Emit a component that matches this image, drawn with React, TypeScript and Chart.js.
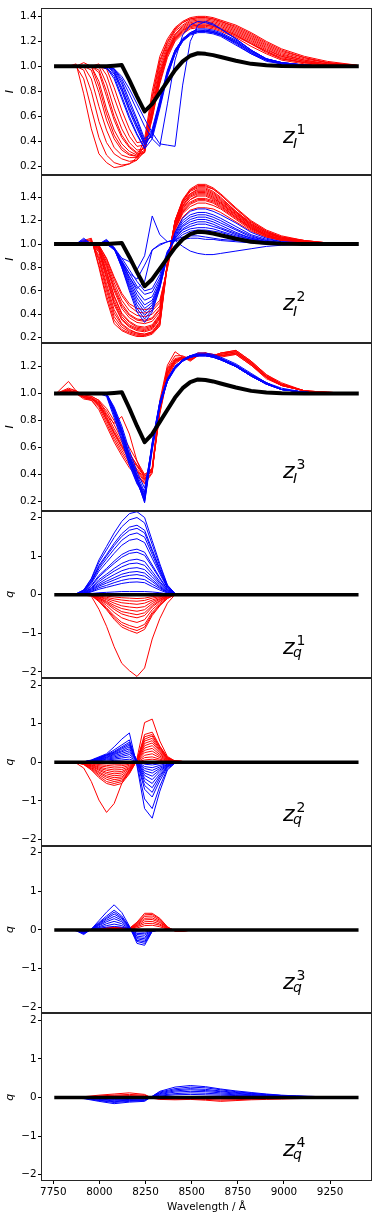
import React, { useEffect, useRef } from 'react';
import { Chart, registerables } from 'chart.js';

Chart.register(...registerables);

// ---------- x grids (wavelength, Angstrom) ----------
const xI = [7765, 7832.5, 7873.75, 7915, 7956.25, 7997.5, 8038.75, 8080, 8121.25, 8162.5, 8203.75, 8245, 8286.25, 8327.5, 8368.75, 8410, 8451.25, 8492.5, 8533.75, 8575, 8616.25, 8657.5, 8740, 8822.5, 8905, 8987.5, 9111.25, 9235, 9395];
const xQ = [7832.5, 7873.75, 7915, 7956.25, 7997.5, 8038.75, 8080, 8121.25, 8162.5, 8203.75, 8245, 8286.25, 8327.5, 8368.75, 8410, 8451.25, 8492.5];
const xQ4 = [7832.5, 7915, 7997.5, 8080, 8162.5, 8245, 8286.25, 8327.5, 8410, 8492.5, 8575, 8657.5, 8740, 8822.5, 8905, 8987.5, 9070, 9152.5, 9235];
const zeroX = [7765, 9395];
const zeroY = [0, 0];

// ---------- mean intensity profile (black) ----------
const meanI = [1, 1, 1, 1, 1, 1, 1, 1.005, 1.01, 0.89, 0.76, 0.64, 0.7, 0.79, 0.88, 0.97, 1.04, 1.085, 1.105, 1.1, 1.09, 1.075, 1.045, 1.02, 1.008, 1.003, 1, 1, 1];

// ---------- panel z_I^1 ----------
const i1Red = [
  [1, 1, 1.02, 0.78, 0.5, 0.3, 0.23, 0.19, 0.2, 0.22, 0.27, 0.42, 0.8, 1.08, 1.22, 1.31, 1.36, 1.39, 1.4, 1.4, 1.39, 1.37, 1.33, 1.27, 1.2, 1.14, 1.08, 1.04, 1.01],
  [1, 1, 1, 0.9, 0.66, 0.43, 0.29, 0.23, 0.21, 0.22, 0.25, 0.38, 0.76, 1.05, 1.2, 1.3, 1.35, 1.38, 1.39, 1.39, 1.38, 1.36, 1.31, 1.25, 1.18, 1.12, 1.07, 1.03, 1.01],
  [1, 1, 1, 0.97, 0.8, 0.56, 0.39, 0.3, 0.26, 0.24, 0.25, 0.32, 0.7, 1.0, 1.17, 1.28, 1.33, 1.37, 1.38, 1.38, 1.37, 1.35, 1.3, 1.24, 1.17, 1.11, 1.06, 1.03, 1.0],
  [1, 1, 1, 1, 0.9, 0.68, 0.49, 0.35, 0.29, 0.27, 0.27, 0.31, 0.66, 0.97, 1.15, 1.26, 1.32, 1.36, 1.37, 1.37, 1.36, 1.34, 1.29, 1.23, 1.16, 1.1, 1.05, 1.02, 1.0],
  [1, 1, 1, 1, 0.97, 0.79, 0.57, 0.42, 0.33, 0.29, 0.28, 0.32, 0.66, 0.95, 1.13, 1.25, 1.31, 1.35, 1.36, 1.36, 1.35, 1.33, 1.28, 1.22, 1.15, 1.09, 1.05, 1.02, 1.0],
  [1, 1, 1, 1, 1, 0.88, 0.66, 0.49, 0.38, 0.32, 0.29, 0.33, 0.64, 0.93, 1.12, 1.24, 1.3, 1.34, 1.35, 1.35, 1.34, 1.32, 1.27, 1.21, 1.14, 1.08, 1.04, 1.02, 1.0],
  [1, 1, 1, 1, 1, 0.95, 0.76, 0.57, 0.43, 0.35, 0.3, 0.31, 0.6, 0.91, 1.11, 1.23, 1.29, 1.33, 1.34, 1.34, 1.33, 1.31, 1.26, 1.2, 1.13, 1.08, 1.04, 1.01, 1.0],
  [1, 1, 1, 1, 1, 1, 0.86, 0.66, 0.5, 0.39, 0.33, 0.34, 0.58, 0.88, 1.1, 1.22, 1.28, 1.32, 1.33, 1.33, 1.32, 1.3, 1.25, 1.19, 1.12, 1.07, 1.03, 1.01, 1.0],
  [1, 1, 1, 1, 1, 1.02, 0.93, 0.75, 0.58, 0.44, 0.36, 0.37, 0.6, 0.88, 1.09, 1.21, 1.27, 1.31, 1.32, 1.32, 1.31, 1.29, 1.24, 1.18, 1.11, 1.06, 1.03, 1.01, 1.0],
  [1, 1, 1, 1, 1, 1, 0.98, 0.83, 0.65, 0.5, 0.39, 0.4, 0.62, 0.86, 1.07, 1.2, 1.26, 1.3, 1.31, 1.31, 1.3, 1.28, 1.23, 1.16, 1.1, 1.05, 1.02, 1.0, 1.0],
  [1, 1, 1, 1.03, 1, 0.84, 0.62, 0.45, 0.35, 0.3, 0.28, 0.36, 0.74, 1.03, 1.19, 1.29, 1.35, 1.38, 1.39, 1.39, 1.38, 1.36, 1.32, 1.26, 1.19, 1.13, 1.07, 1.03, 1.0],
  [1, 1, 1, 1, 1, 0.97, 0.8, 0.6, 0.45, 0.36, 0.31, 0.35, 0.64, 0.92, 1.12, 1.23, 1.29, 1.32, 1.33, 1.33, 1.32, 1.3, 1.25, 1.18, 1.12, 1.06, 1.03, 1.01, 1.0],
];
const i1Blue = [
  [1, 1, 1, 1, 1, 1, 0.99, 0.92, 0.76, 0.6, 0.46, 0.35, 0.48, 0.72, 0.96, 1.13, 1.22, 1.27, 1.29, 1.29, 1.28, 1.26, 1.2, 1.12, 1.06, 1.03, 1.01, 1.0, 1.0],
  [1, 1, 1, 1, 1, 1, 0.98, 0.94, 0.8, 0.64, 0.5, 0.37, 0.46, 0.7, 0.95, 1.12, 1.21, 1.26, 1.28, 1.28, 1.27, 1.25, 1.19, 1.11, 1.05, 1.02, 1.01, 1.0, 1.0],
  [1, 1, 1, 1, 1, 1, 1, 0.96, 0.83, 0.67, 0.53, 0.39, 0.5, 0.73, 0.97, 1.13, 1.22, 1.26, 1.28, 1.28, 1.27, 1.25, 1.18, 1.1, 1.05, 1.02, 1.0, 1.0, 1.0],
  [1, 1, 1, 1, 1, 1, 1, 0.97, 0.86, 0.7, 0.56, 0.4, 0.44, 0.68, 0.93, 1.1, 1.2, 1.25, 1.27, 1.27, 1.26, 1.24, 1.17, 1.1, 1.04, 1.02, 1.0, 1.0, 1.0],
  [1, 1, 1, 1, 1, 1, 1, 0.98, 0.88, 0.73, 0.58, 0.42, 0.47, 0.7, 0.94, 1.11, 1.21, 1.26, 1.28, 1.29, 1.28, 1.26, 1.2, 1.12, 1.06, 1.03, 1.01, 1.0, 1.0],
  [1, 1, 1, 1, 1, 1, 0.99, 0.9, 0.74, 0.58, 0.45, 0.34, 0.42, 0.66, 0.92, 1.1, 1.2, 1.26, 1.28, 1.28, 1.27, 1.25, 1.19, 1.11, 1.05, 1.02, 1.0, 1.0, 1.0],
  [1, 1, 1, 1, 1, 1, 1, 0.95, 0.82, 0.66, 0.52, 0.38, 0.45, 0.69, 0.94, 1.12, 1.22, 1.27, 1.3, 1.3, 1.29, 1.27, 1.21, 1.13, 1.06, 1.03, 1.01, 1.0, 1.0],
  [1, 1, 1, 1, 1, 1, 1, 0.98, 0.9, 0.78, 0.65, 0.52, 0.42, 0.36, 0.7, 1.05, 1.25, 1.33, 1.36, 1.35, 1.33, 1.3, 1.22, 1.13, 1.06, 1.03, 1.01, 1.0, 1.0],
  [1, 1, 1, 1, 1, 1, 1, 0.98, 0.92, 0.82, 0.7, 0.58, 0.47, 0.38, 0.37, 0.36, 0.85, 1.2, 1.33, 1.36, 1.34, 1.3, 1.22, 1.13, 1.06, 1.03, 1.01, 1.0, 1.0],
];

// ---------- panel z_I^2 ----------
const i2Red = [
  [1, 1, 1, 1.03, 1.05, 0.8, 0.53, 0.32, 0.26, 0.23, 0.21, 0.21, 0.23, 0.3, 0.82, 1.2, 1.38, 1.47, 1.51, 1.51, 1.48, 1.43, 1.31, 1.2, 1.12, 1.07, 1.03, 1.01, 1.0],
  [1, 1, 1, 1.02, 1.03, 0.86, 0.6, 0.38, 0.29, 0.25, 0.23, 0.22, 0.24, 0.32, 0.84, 1.2, 1.37, 1.46, 1.5, 1.5, 1.47, 1.42, 1.3, 1.19, 1.11, 1.06, 1.03, 1.01, 1.0],
  [1, 1, 1, 1, 1.02, 0.9, 0.66, 0.44, 0.32, 0.27, 0.24, 0.23, 0.25, 0.34, 0.85, 1.19, 1.36, 1.45, 1.48, 1.48, 1.45, 1.4, 1.28, 1.18, 1.1, 1.06, 1.02, 1.01, 1.0],
  [1, 1, 1, 1, 1.01, 0.93, 0.7, 0.48, 0.35, 0.29, 0.26, 0.25, 0.27, 0.36, 0.84, 1.18, 1.35, 1.43, 1.46, 1.46, 1.43, 1.38, 1.27, 1.17, 1.1, 1.05, 1.02, 1.0, 1.0],
  [1, 1, 1, 1, 1, 0.95, 0.74, 0.52, 0.38, 0.31, 0.28, 0.27, 0.29, 0.38, 0.83, 1.17, 1.33, 1.41, 1.44, 1.44, 1.41, 1.36, 1.26, 1.16, 1.09, 1.05, 1.02, 1.0, 1.0],
  [1, 1, 1, 1, 1, 0.96, 0.77, 0.56, 0.41, 0.34, 0.3, 0.29, 0.31, 0.4, 0.83, 1.16, 1.32, 1.4, 1.43, 1.43, 1.4, 1.35, 1.25, 1.15, 1.08, 1.04, 1.02, 1.0, 1.0],
  [1, 1, 1, 1, 1, 0.97, 0.8, 0.6, 0.45, 0.37, 0.33, 0.32, 0.34, 0.42, 0.82, 1.15, 1.31, 1.38, 1.41, 1.41, 1.38, 1.34, 1.24, 1.14, 1.08, 1.04, 1.01, 1.0, 1.0],
  [1, 1, 1, 1, 1, 0.98, 0.83, 0.64, 0.49, 0.4, 0.36, 0.35, 0.37, 0.45, 0.82, 1.14, 1.29, 1.36, 1.39, 1.39, 1.37, 1.33, 1.23, 1.14, 1.07, 1.04, 1.01, 1.0, 1.0],
  [1, 1, 1, 1, 1, 0.98, 0.85, 0.67, 0.52, 0.43, 0.39, 0.38, 0.4, 0.47, 0.81, 1.13, 1.27, 1.34, 1.37, 1.37, 1.35, 1.31, 1.22, 1.13, 1.07, 1.03, 1.01, 1.0, 1.0],
  [1, 1, 1, 1, 1, 0.99, 0.87, 0.7, 0.56, 0.47, 0.42, 0.41, 0.43, 0.5, 0.8, 1.12, 1.26, 1.32, 1.35, 1.35, 1.33, 1.3, 1.21, 1.12, 1.06, 1.03, 1.01, 1.0, 1.0],
  [1, 1, 1, 1.02, 1.04, 0.82, 0.56, 0.35, 0.27, 0.24, 0.22, 0.22, 0.24, 0.31, 0.83, 1.2, 1.37, 1.46, 1.49, 1.49, 1.47, 1.42, 1.3, 1.19, 1.11, 1.06, 1.03, 1.01, 1.0],
  [1, 1, 1, 1, 1.02, 0.88, 0.63, 0.41, 0.31, 0.26, 0.24, 0.23, 0.25, 0.33, 0.84, 1.19, 1.35, 1.43, 1.47, 1.47, 1.44, 1.39, 1.28, 1.17, 1.1, 1.05, 1.02, 1.0, 1.0],
  [1, 1, 1, 1, 1, 0.94, 0.72, 0.5, 0.36, 0.3, 0.27, 0.26, 0.28, 0.37, 0.83, 1.17, 1.33, 1.42, 1.45, 1.45, 1.42, 1.37, 1.27, 1.16, 1.09, 1.05, 1.02, 1.0, 1.0],
  [1, 1, 1, 1, 1, 0.96, 0.76, 0.55, 0.4, 0.33, 0.29, 0.28, 0.3, 0.39, 0.82, 1.15, 1.3, 1.38, 1.42, 1.42, 1.39, 1.35, 1.25, 1.15, 1.08, 1.04, 1.02, 1.0, 1.0],
  [1, 1, 1, 1, 1, 0.97, 0.82, 0.62, 0.47, 0.39, 0.35, 0.34, 0.36, 0.44, 0.82, 1.13, 1.28, 1.35, 1.38, 1.38, 1.36, 1.32, 1.23, 1.13, 1.07, 1.04, 1.01, 1.0, 1.0],
  [1, 1, 1, 1, 1, 0.99, 0.88, 0.72, 0.58, 0.49, 0.45, 0.44, 0.45, 0.52, 0.79, 1.1, 1.23, 1.29, 1.31, 1.31, 1.3, 1.27, 1.19, 1.11, 1.06, 1.03, 1.01, 1.0, 1.0],
];
const i2Blue = [
  [1, 1, 1, 1.05, 1, 1, 1.04, 0.97, 0.8, 0.6, 0.42, 0.33, 0.42, 0.62, 0.9, 1.1, 1.22, 1.28, 1.3, 1.3, 1.28, 1.25, 1.18, 1.1, 1.05, 1.02, 1.01, 1.0, 1.0],
  [1, 1, 1, 1.04, 1, 1, 1.03, 0.96, 0.8, 0.62, 0.45, 0.36, 0.44, 0.63, 0.9, 1.09, 1.2, 1.25, 1.27, 1.27, 1.25, 1.22, 1.15, 1.08, 1.04, 1.02, 1.0, 1.0, 1.0],
  [1, 1, 1, 1.03, 1, 1, 1.03, 0.96, 0.81, 0.64, 0.48, 0.39, 0.46, 0.64, 0.91, 1.08, 1.18, 1.23, 1.25, 1.25, 1.23, 1.2, 1.13, 1.07, 1.03, 1.01, 1.0, 1.0, 1.0],
  [1, 1, 1, 1.02, 1, 1, 1.02, 0.96, 0.82, 0.66, 0.51, 0.42, 0.48, 0.65, 0.91, 1.07, 1.16, 1.21, 1.23, 1.23, 1.21, 1.18, 1.12, 1.06, 1.03, 1.01, 1.0, 1.0, 1.0],
  [1, 1, 1, 1.02, 1, 1, 1.02, 0.96, 0.83, 0.68, 0.54, 0.45, 0.5, 0.66, 0.92, 1.06, 1.15, 1.19, 1.21, 1.21, 1.19, 1.16, 1.1, 1.05, 1.02, 1.01, 1.0, 1.0, 1.0],
  [1, 1, 1, 1.01, 1, 1, 1.02, 0.96, 0.84, 0.7, 0.57, 0.48, 0.52, 0.67, 0.92, 1.05, 1.13, 1.17, 1.19, 1.19, 1.17, 1.14, 1.09, 1.05, 1.02, 1.01, 1.0, 1.0, 1.0],
  [1, 1, 1, 1.01, 1, 1, 1.01, 0.96, 0.85, 0.72, 0.6, 0.52, 0.55, 0.69, 0.93, 1.05, 1.12, 1.15, 1.17, 1.17, 1.15, 1.13, 1.08, 1.04, 1.02, 1.0, 1.0, 1.0, 1.0],
  [1, 1, 1, 1, 1, 1, 1.01, 0.97, 0.86, 0.75, 0.64, 0.57, 0.59, 0.71, 0.93, 1.04, 1.1, 1.13, 1.14, 1.14, 1.13, 1.11, 1.07, 1.04, 1.02, 1.0, 1.0, 1.0, 1.0],
  [1, 1, 1, 1, 1, 1, 1.0, 0.97, 0.88, 0.78, 0.68, 0.6, 0.62, 0.74, 0.94, 1.03, 1.08, 1.11, 1.12, 1.12, 1.11, 1.1, 1.06, 1.03, 1.01, 1.0, 1.0, 1.0, 1.0],
  [1, 1, 1, 1, 1, 1, 1.0, 0.95, 0.88, 0.85, 0.78, 0.9, 1.24, 1.08, 1.02, 1.03, 1.04, 1.05, 1.05, 1.04, 1.04, 1.03, 1.02, 1.01, 1.0, 1.0, 1.0, 1.0, 1.0],
  [1, 1, 1, 1, 1, 1, 1.0, 0.96, 0.85, 0.75, 0.7, 0.82, 0.95, 0.99, 1.02, 1.03, 0.98, 0.94, 0.92, 0.91, 0.91, 0.92, 0.94, 0.96, 0.98, 0.99, 1.0, 1.0, 1.0],
  [1, 1, 1, 1, 1, 1, 1.0, 0.96, 0.84, 0.72, 0.62, 0.68, 0.95, 1.0, 1.02, 1.04, 1.06, 1.07, 1.07, 1.06, 1.05, 1.04, 1.03, 1.02, 1.01, 1.0, 1.0, 1.0, 1.0],
];

// ---------- panel z_I^3 ----------
const i3Red = [
  [1, 1.09, 1.02, 0.99, 0.98, 0.95, 0.85, 0.74, 0.64, 0.55, 0.47, 0.39, 0.42, 0.92, 1.18, 1.26, 1.27, 1.25, 1.28, 1.3, 1.29, 1.29, 1.31, 1.23, 1.13, 1.07, 1.02, 1.01, 1.0],
  [1, 1.03, 1.02, 0.97, 0.96, 0.93, 0.82, 0.7, 0.6, 0.51, 0.43, 0.36, 0.45, 0.95, 1.21, 1.31, 1.27, 1.24, 1.28, 1.29, 1.28, 1.3, 1.32, 1.24, 1.14, 1.08, 1.02, 1.01, 1.0],
  [1, 1.02, 1.01, 0.98, 0.97, 0.92, 0.8, 0.68, 0.58, 0.49, 0.42, 0.35, 0.44, 0.88, 1.15, 1.24, 1.26, 1.26, 1.29, 1.3, 1.28, 1.28, 1.3, 1.22, 1.12, 1.06, 1.02, 1.0, 1.0],
  [1, 1.03, 1.0, 0.96, 0.95, 0.9, 0.78, 0.66, 0.56, 0.47, 0.4, 0.34, 0.42, 0.9, 1.17, 1.25, 1.26, 1.25, 1.28, 1.29, 1.28, 1.29, 1.31, 1.23, 1.13, 1.07, 1.02, 1.01, 1.0],
  [1, 1.02, 1.01, 0.98, 0.97, 0.93, 0.84, 0.78, 0.83, 0.7, 0.5, 0.37, 0.43, 0.91, 1.16, 1.25, 1.27, 1.25, 1.28, 1.29, 1.28, 1.3, 1.31, 1.23, 1.13, 1.07, 1.02, 1.0, 1.0],
  [1, 1.02, 1.0, 0.97, 0.96, 0.91, 0.81, 0.71, 0.61, 0.52, 0.44, 0.37, 0.43, 0.86, 1.13, 1.23, 1.26, 1.26, 1.3, 1.3, 1.28, 1.27, 1.29, 1.21, 1.12, 1.06, 1.02, 1.0, 1.0],
  [1, 1.01, 1.0, 0.98, 0.97, 0.94, 0.87, 0.77, 0.66, 0.56, 0.47, 0.4, 0.44, 0.87, 1.14, 1.24, 1.27, 1.27, 1.3, 1.3, 1.28, 1.28, 1.3, 1.22, 1.12, 1.06, 1.02, 1.0, 1.0],
  [1, 1.02, 1.01, 0.97, 0.95, 0.88, 0.76, 0.64, 0.54, 0.45, 0.39, 0.33, 0.41, 0.93, 1.19, 1.28, 1.28, 1.25, 1.28, 1.29, 1.28, 1.3, 1.32, 1.24, 1.14, 1.07, 1.02, 1.01, 1.0],
  [1, 1.04, 1.02, 0.98, 0.96, 0.92, 0.83, 0.72, 0.62, 0.53, 0.46, 0.38, 0.45, 0.89, 1.15, 1.24, 1.26, 1.25, 1.28, 1.29, 1.28, 1.28, 1.3, 1.22, 1.12, 1.06, 1.02, 1.0, 1.0],
  [1, 1.02, 1.0, 0.99, 0.98, 0.95, 0.89, 0.8, 0.7, 0.6, 0.5, 0.4, 0.44, 0.85, 1.12, 1.22, 1.26, 1.26, 1.29, 1.3, 1.29, 1.28, 1.29, 1.21, 1.11, 1.06, 1.02, 1.0, 1.0],
];
const i3Blue = [
  [1, 1, 1, 1, 1, 1, 1.0, 0.86, 0.7, 0.5, 0.35, 0.2, 0.6, 0.92, 1.1, 1.2, 1.25, 1.28, 1.29, 1.29, 1.28, 1.26, 1.21, 1.14, 1.08, 1.03, 1.01, 1.0, 1.0],
  [1, 1, 1, 1, 1, 1, 0.99, 0.84, 0.67, 0.48, 0.34, 0.22, 0.62, 0.93, 1.11, 1.2, 1.25, 1.28, 1.29, 1.29, 1.28, 1.26, 1.21, 1.14, 1.08, 1.03, 1.01, 1.0, 1.0],
  [1, 1, 1, 1, 1, 1, 1.0, 0.88, 0.72, 0.53, 0.38, 0.24, 0.63, 0.93, 1.1, 1.19, 1.24, 1.27, 1.28, 1.28, 1.27, 1.25, 1.2, 1.13, 1.07, 1.03, 1.01, 1.0, 1.0],
  [1, 1, 1, 1, 1, 1, 0.98, 0.82, 0.65, 0.47, 0.33, 0.25, 0.64, 0.94, 1.11, 1.2, 1.25, 1.28, 1.29, 1.29, 1.28, 1.26, 1.2, 1.13, 1.07, 1.03, 1.01, 1.0, 1.0],
  [1, 1, 1, 1, 1, 1, 1.0, 0.89, 0.74, 0.55, 0.4, 0.27, 0.6, 0.91, 1.09, 1.19, 1.24, 1.27, 1.28, 1.28, 1.27, 1.25, 1.2, 1.13, 1.07, 1.03, 1.01, 1.0, 1.0],
  [1, 1, 1, 1, 1, 1, 1.0, 0.87, 0.71, 0.51, 0.36, 0.19, 0.58, 0.9, 1.09, 1.19, 1.25, 1.28, 1.3, 1.3, 1.29, 1.27, 1.22, 1.15, 1.08, 1.04, 1.01, 1.0, 1.0],
  [1, 1, 1, 1, 1, 1, 1.0, 0.9, 0.76, 0.58, 0.42, 0.3, 0.61, 0.91, 1.09, 1.18, 1.24, 1.27, 1.28, 1.28, 1.27, 1.25, 1.2, 1.13, 1.07, 1.03, 1.01, 1.0, 1.0],
  [1, 1, 1, 1, 1, 1, 0.99, 0.85, 0.69, 0.5, 0.36, 0.23, 0.61, 0.92, 1.1, 1.2, 1.25, 1.28, 1.29, 1.29, 1.28, 1.26, 1.21, 1.14, 1.08, 1.03, 1.01, 1.0, 1.0],
  [1, 1, 1, 1, 1, 1, 1.0, 0.87, 0.72, 0.52, 0.37, 0.26, 0.63, 0.94, 1.11, 1.2, 1.25, 1.27, 1.28, 1.28, 1.27, 1.25, 1.2, 1.13, 1.07, 1.03, 1.01, 1.0, 1.0],
  [1, 1, 1, 1, 1, 1, 1.0, 0.88, 0.73, 0.54, 0.39, 0.21, 0.59, 0.91, 1.1, 1.2, 1.25, 1.28, 1.29, 1.29, 1.28, 1.26, 1.21, 1.14, 1.08, 1.03, 1.01, 1.0, 1.0],
];

// ---------- panel z_q^1 ----------
const q1Red = [
  [0, 0, -0.01, -0.04, -0.38, -0.82, -1.35, -1.78, -1.97, -2.12, -1.9, -1.15, -0.62, -0.22, 0.0, 0.03, 0.03],
  [0, 0, -0.01, -0.02, -0.18, -0.39, -0.64, -0.84, -0.93, -1.0, -0.9, -0.54, -0.29, -0.1, 0, 0.02, 0.02],
  [0, 0, -0.01, -0.02, -0.17, -0.36, -0.6, -0.78, -0.87, -0.93, -0.84, -0.5, -0.27, -0.09, 0, 0.02, 0.02],
  [0, 0, -0.01, -0.02, -0.15, -0.34, -0.55, -0.72, -0.8, -0.86, -0.77, -0.46, -0.25, -0.09, 0, 0.02, 0.02],
  [0, 0, -0.01, -0.01, -0.13, -0.28, -0.46, -0.6, -0.67, -0.72, -0.65, -0.39, -0.21, -0.07, 0, 0.02, 0.02],
  [0, 0, 0, -0.01, -0.11, -0.23, -0.38, -0.5, -0.56, -0.6, -0.54, -0.32, -0.17, -0.06, 0, 0.02, 0.02],
  [0, 0, 0, -0.01, -0.09, -0.2, -0.33, -0.44, -0.48, -0.52, -0.47, -0.28, -0.15, -0.05, 0, 0.02, 0.02],
  [0, 0, 0, -0.01, -0.08, -0.17, -0.28, -0.36, -0.4, -0.43, -0.39, -0.23, -0.12, -0.04, 0, 0.02, 0.01],
  [0, 0, 0, -0.01, -0.06, -0.13, -0.22, -0.29, -0.32, -0.34, -0.31, -0.18, -0.1, -0.03, 0, 0.01, 0.01],
  [0, 0, 0, 0, -0.05, -0.1, -0.16, -0.21, -0.23, -0.25, -0.22, -0.14, -0.07, -0.03, 0, 0.01, 0.01],
  [0, 0, 0, 0, -0.03, -0.07, -0.11, -0.14, -0.16, -0.17, -0.15, -0.09, -0.05, -0.02, 0, 0.01, 0.01],
  [0, 0, 0, 0, -0.02, -0.04, -0.06, -0.08, -0.09, -0.1, -0.09, -0.05, -0.03, -0.01, 0, 0, 0],
];
const q1Blue = [
  [0, 0.02, 0.12, 0.42, 0.9, 1.25, 1.6, 1.9, 2.1, 2.15, 2.0, 1.4, 0.8, 0.25, 0.03, -0.01, -0.02],
  [0, 0.02, 0.12, 0.4, 0.84, 1.16, 1.48, 1.76, 1.94, 2.0, 1.86, 1.3, 0.74, 0.24, 0.03, 0, -0.02],
  [0, 0.02, 0.11, 0.36, 0.76, 1.04, 1.33, 1.58, 1.75, 1.8, 1.67, 1.17, 0.67, 0.22, 0.03, 0, -0.02],
  [0, 0.01, 0.1, 0.34, 0.72, 1.0, 1.27, 1.51, 1.67, 1.72, 1.6, 1.12, 0.64, 0.2, 0.02, 0, -0.02],
  [0, 0.01, 0.1, 0.32, 0.67, 0.93, 1.18, 1.41, 1.55, 1.6, 1.49, 1.04, 0.59, 0.19, 0.02, 0, -0.01],
  [0, 0.01, 0.09, 0.29, 0.61, 0.84, 1.07, 1.28, 1.41, 1.45, 1.35, 0.94, 0.54, 0.17, 0.02, 0, -0.01],
  [0, 0.01, 0.07, 0.24, 0.5, 0.68, 0.87, 1.04, 1.14, 1.18, 1.1, 0.77, 0.44, 0.14, 0.02, 0, -0.01],
  [0, 0.01, 0.07, 0.22, 0.46, 0.64, 0.81, 0.97, 1.07, 1.1, 1.02, 0.72, 0.41, 0.13, 0.02, 0, -0.01],
  [0, 0.01, 0.06, 0.18, 0.39, 0.53, 0.68, 0.81, 0.89, 0.92, 0.86, 0.6, 0.34, 0.11, 0.01, 0, -0.01],
  [0, 0.01, 0.05, 0.16, 0.34, 0.48, 0.61, 0.72, 0.8, 0.82, 0.76, 0.53, 0.3, 0.1, 0.01, 0, -0.01],
  [0, 0.01, 0.04, 0.14, 0.29, 0.41, 0.52, 0.62, 0.68, 0.7, 0.65, 0.46, 0.26, 0.08, 0.01, 0, 0],
  [0, 0, 0.04, 0.12, 0.25, 0.35, 0.44, 0.53, 0.58, 0.6, 0.56, 0.39, 0.22, 0.07, 0.01, 0, 0],
  [0, 0, 0.03, 0.1, 0.22, 0.3, 0.38, 0.46, 0.5, 0.52, 0.48, 0.34, 0.19, 0.06, 0.01, 0, 0],
  [0, 0, 0.03, 0.08, 0.18, 0.24, 0.31, 0.37, 0.41, 0.42, 0.39, 0.27, 0.16, 0.05, 0, 0, 0],
  [0, 0, 0.02, 0.07, 0.14, 0.19, 0.24, 0.29, 0.32, 0.33, 0.31, 0.21, 0.12, 0.04, 0, 0, 0],
  [0, 0, 0.01, 0.03, 0.05, 0.06, 0.07, 0.08, 0.08, 0.08, 0.08, 0.07, 0.05, 0.02, 0, -0.02, -0.02],
];

// ---------- panel z_q^2 ----------
const q2Red = [
  [0, -0.02, -0.15, -0.5, -0.98, -1.3, -1.07, -0.55, -0.18, 0.1, 1.03, 1.12, 0.55, 0.15, 0.03, 0.02, 0.01],
  [0, -0.01, -0.06, -0.2, -0.4, -0.55, -0.6, -0.55, -0.3, 0.05, 0.72, 0.78, 0.42, 0.13, 0.03, 0.02, 0.01],
  [0, -0.01, -0.05, -0.18, -0.36, -0.5, -0.55, -0.5, -0.28, 0.05, 0.66, 0.72, 0.4, 0.12, 0.03, 0.02, 0.01],
  [0, -0.01, -0.05, -0.16, -0.32, -0.44, -0.5, -0.46, -0.26, 0.05, 0.6, 0.68, 0.37, 0.11, 0.03, 0.02, 0.01],
  [0, 0, -0.04, -0.14, -0.28, -0.39, -0.45, -0.42, -0.24, 0.05, 0.55, 0.62, 0.34, 0.1, 0.03, 0.02, 0.01],
  [0, 0, -0.04, -0.12, -0.25, -0.35, -0.4, -0.38, -0.22, 0.04, 0.49, 0.56, 0.31, 0.09, 0.03, 0.02, 0.01],
  [0, 0, -0.03, -0.1, -0.21, -0.3, -0.35, -0.33, -0.19, 0.04, 0.43, 0.5, 0.28, 0.08, 0.03, 0.02, 0.01],
  [0, 0, -0.03, -0.09, -0.18, -0.26, -0.3, -0.28, -0.16, 0.04, 0.37, 0.43, 0.24, 0.07, 0.02, 0.02, 0.01],
  [0, 0, -0.02, -0.07, -0.15, -0.21, -0.25, -0.24, -0.14, 0.03, 0.31, 0.36, 0.2, 0.06, 0.02, 0.01, 0.01],
  [0, 0, -0.02, -0.06, -0.12, -0.17, -0.2, -0.19, -0.11, 0.03, 0.25, 0.29, 0.16, 0.05, 0.02, 0.01, 0.01],
  [0, 0, -0.01, -0.04, -0.09, -0.12, -0.15, -0.14, -0.08, 0.02, 0.18, 0.22, 0.12, 0.04, 0.01, 0.01, 0],
  [0, 0, -0.01, -0.03, -0.06, -0.08, -0.1, -0.09, -0.05, 0.01, 0.12, 0.14, 0.08, 0.03, 0.01, 0.01, 0],
  [0, 0, 0, -0.01, -0.03, -0.04, -0.05, -0.05, -0.03, 0.01, 0.06, 0.08, 0.05, 0.02, 0, 0, 0],
];
const q2Blue = [
  [0, 0, 0.01, 0.06, 0.14, 0.22, 0.4, 0.6, 0.76, -0.1, -1.2, -1.45, -0.75, -0.2, -0.02, -0.02, -0.01],
  [0, 0, 0.01, 0.05, 0.12, 0.2, 0.32, 0.45, 0.58, -0.05, -0.95, -1.2, -0.62, -0.17, -0.02, -0.02, -0.01],
  [0, 0, 0.01, 0.05, 0.12, 0.19, 0.28, 0.4, 0.52, 0.0, -0.7, -0.9, -0.48, -0.13, -0.02, -0.02, -0.01],
  [0, 0, 0.01, 0.04, 0.11, 0.18, 0.26, 0.37, 0.48, 0.02, -0.6, -0.78, -0.4, -0.11, -0.02, -0.02, -0.01],
  [0, 0, 0.01, 0.04, 0.1, 0.17, 0.24, 0.34, 0.44, 0.03, -0.5, -0.66, -0.35, -0.1, -0.02, -0.02, -0.01],
  [0, 0, 0.01, 0.04, 0.09, 0.15, 0.22, 0.3, 0.4, 0.04, -0.42, -0.55, -0.3, -0.09, -0.02, -0.02, -0.01],
  [0, 0, 0.01, 0.03, 0.08, 0.13, 0.2, 0.27, 0.35, 0.04, -0.34, -0.45, -0.24, -0.08, -0.02, -0.02, -0.01],
  [0, 0, 0.01, 0.03, 0.07, 0.12, 0.17, 0.23, 0.3, 0.04, -0.28, -0.36, -0.2, -0.07, -0.02, -0.02, -0.01],
  [0, 0, 0.01, 0.03, 0.06, 0.1, 0.14, 0.19, 0.25, 0.04, -0.22, -0.28, -0.16, -0.06, -0.02, -0.02, -0.01],
  [0, 0, 0, 0.02, 0.05, 0.08, 0.11, 0.15, 0.2, 0.04, -0.16, -0.21, -0.12, -0.05, -0.02, -0.01, -0.01],
  [0, 0, 0, 0.02, 0.04, 0.06, 0.08, 0.11, 0.14, 0.03, -0.11, -0.14, -0.08, -0.03, -0.01, -0.01, 0],
  [0, 0, 0, 0.01, 0.02, 0.03, 0.05, 0.06, 0.08, 0.02, -0.05, -0.07, -0.04, -0.02, -0.01, -0.01, 0],
];

// ---------- panel z_q^3 ----------
const q3Red = [
  [0, 0, -0.05, 0, 0.03, 0.05, 0.06, 0.06, 0.04, 0.2, 0.43, 0.43, 0.3, 0.08, -0.03, -0.04, -0.01],
  [0, 0, -0.04, 0, 0.03, 0.05, 0.06, 0.05, 0.04, 0.18, 0.39, 0.4, 0.28, 0.07, -0.03, -0.03, -0.01],
  [0, 0, -0.04, 0, 0.02, 0.04, 0.05, 0.05, 0.03, 0.16, 0.35, 0.36, 0.25, 0.06, -0.03, -0.03, -0.01],
  [0, 0, -0.03, 0, 0.02, 0.04, 0.05, 0.05, 0.03, 0.14, 0.3, 0.31, 0.22, 0.05, -0.02, -0.03, -0.01],
  [0, 0, -0.03, 0, 0.02, 0.03, 0.04, 0.04, 0.03, 0.12, 0.26, 0.27, 0.19, 0.05, -0.02, -0.02, -0.01],
  [0, 0, -0.02, 0, 0.01, 0.03, 0.04, 0.04, 0.02, 0.1, 0.21, 0.22, 0.15, 0.04, -0.02, -0.02, 0],
  [0, 0, -0.02, 0, 0.01, 0.02, 0.03, 0.03, 0.02, 0.08, 0.16, 0.17, 0.12, 0.03, -0.01, -0.01, 0],
  [0, 0, -0.01, 0, 0.01, 0.02, 0.02, 0.02, 0.01, 0.05, 0.11, 0.12, 0.08, 0.02, -0.01, -0.01, 0],
];
const q3Blue = [
  [0, -0.02, -0.12, 0.02, 0.24, 0.46, 0.65, 0.45, 0.1, -0.35, -0.4, -0.04, 0, 0, 0, 0, 0],
  [0, -0.02, -0.1, 0.02, 0.19, 0.36, 0.51, 0.36, 0.08, -0.3, -0.35, -0.04, 0, 0, 0, 0, 0],
  [0, -0.02, -0.09, 0.02, 0.17, 0.32, 0.46, 0.32, 0.07, -0.27, -0.31, -0.03, 0, 0, 0, 0, 0],
  [0, -0.01, -0.08, 0.01, 0.15, 0.29, 0.41, 0.29, 0.06, -0.23, -0.27, -0.03, 0, 0, 0, 0, 0],
  [0, -0.01, -0.07, 0.01, 0.13, 0.25, 0.35, 0.25, 0.05, -0.2, -0.23, -0.03, 0, 0, 0, 0, 0],
  [0, -0.01, -0.06, 0.01, 0.11, 0.21, 0.29, 0.21, 0.04, -0.16, -0.19, -0.02, 0, 0, 0, 0, 0],
  [0, -0.01, -0.05, 0.01, 0.08, 0.16, 0.22, 0.16, 0.03, -0.12, -0.14, -0.02, 0, 0, 0, 0, 0],
  [0, 0, -0.03, 0.01, 0.06, 0.11, 0.15, 0.11, 0.02, -0.09, -0.1, -0.01, 0, 0, 0, 0, 0],
  [0, 0, -0.02, 0, 0.04, 0.07, 0.09, 0.07, 0.01, -0.05, -0.06, -0.01, 0, 0, 0, 0, 0],
];

// ---------- panel z_q^4 ----------
const q4Red = [
  [0, 0.02, 0.06, 0.09, 0.12, 0.08, -0.02, -0.05, -0.06, -0.05, -0.07, -0.1, -0.08, -0.06, -0.05, -0.04, -0.03, -0.02, -0.02],
  [0, 0.01, 0.04, 0.06, 0.08, 0.06, -0.01, -0.04, -0.04, -0.04, -0.05, -0.07, -0.06, -0.04, -0.03, -0.03, -0.02, -0.01, -0.01],
  [0, 0.01, 0.02, 0.04, 0.05, 0.04, 0, -0.02, -0.03, -0.02, -0.03, -0.04, -0.04, -0.03, -0.02, -0.02, -0.01, -0.01, 0],
];
const q4Blue = [
  [0, -0.03, -0.1, -0.16, -0.12, -0.1, 0.03, 0.16, 0.27, 0.31, 0.28, 0.22, 0.17, 0.13, 0.09, 0.06, 0.04, 0.03, 0.01],
  [0, -0.02, -0.08, -0.13, -0.1, -0.08, 0.03, 0.14, 0.23, 0.27, 0.25, 0.2, 0.15, 0.11, 0.08, 0.05, 0.04, 0.02, 0.01],
  [0, -0.02, -0.07, -0.11, -0.08, -0.07, 0.02, 0.12, 0.2, 0.23, 0.21, 0.17, 0.13, 0.1, 0.07, 0.05, 0.03, 0.02, 0.01],
  [0, -0.01, -0.05, -0.09, -0.07, -0.06, 0.02, 0.1, 0.17, 0.2, 0.18, 0.15, 0.11, 0.08, 0.06, 0.04, 0.03, 0.02, 0.01],
  [0, -0.01, -0.04, -0.07, -0.05, -0.04, 0.02, 0.08, 0.14, 0.16, 0.15, 0.12, 0.09, 0.07, 0.05, 0.03, 0.02, 0.02, 0],
  [0, -0.01, -0.03, -0.05, -0.04, -0.03, 0.01, 0.06, 0.1, 0.12, 0.11, 0.09, 0.07, 0.05, 0.04, 0.03, 0.02, 0.01, 0],
  [0, 0, -0.02, -0.03, -0.02, -0.02, 0.01, 0.04, 0.07, 0.08, 0.07, 0.06, 0.05, 0.04, 0.03, 0.02, 0.01, 0.01, 0],
];

// ---------- axes ----------
const xTicks = [7750, 8000, 8250, 8500, 8750, 9000, 9250];
const iTicks12 = [0.2, 0.4, 0.6, 0.8, 1.0, 1.2, 1.4];
const iTicks3 = [0.2, 0.4, 0.6, 0.8, 1.0, 1.2];
const qTicks = [-2, -1, 0, 1, 2];
const yMins = [0.128, 0.155, 0.133, -2.165, -2.165, -2.165, -2.165];
const yMaxs = [1.469, 1.587, 1.375, 2.18, 2.18, 2.18, 2.18];
const yTitles = ['I', 'I', 'I', 'q', 'q', 'q', 'q'];
const labelSub = ['I', 'I', 'I', 'q', 'q', 'q', 'q'];
const labelSup = ['1', '2', '3', '1', '2', '3', '4'];

const PANELS = [
  { x: xI, red: i1Red, blue: i1Blue, bx: xI, by: meanI, ticks: iTicks12, lw: 4 },
  { x: xI, red: i2Red, blue: i2Blue, bx: xI, by: meanI, ticks: iTicks12, lw: 4 },
  { x: xI, red: i3Red, blue: i3Blue, bx: xI, by: meanI, ticks: iTicks3, lw: 4 },
  { x: xQ, red: q1Red, blue: q1Blue, bx: zeroX, by: zeroY, ticks: qTicks, lw: 3.5 },
  { x: xQ, red: q2Red, blue: q2Blue, bx: zeroX, by: zeroY, ticks: qTicks, lw: 3.5 },
  { x: xQ, red: q3Red, blue: q3Blue, bx: zeroX, by: zeroY, ticks: qTicks, lw: 3.5 },
  { x: xQ4, red: q4Red, blue: q4Blue, bx: zeroX, by: zeroY, ticks: qTicks, lw: 3.5 },
];

const FAMILY = '"DejaVu Sans", sans-serif';

const panelPlugin = {
  id: 'panelFrames',
  afterDatasetsDraw(chart: any) {
    const ctx = chart.ctx;
    const xs = chart.scales.x;
    ctx.save();
    PANELS.forEach((_p, k) => {
      const ys = chart.scales['y' + k];
      const l = Math.round(xs.left) + 0.5;
      const r = Math.round(xs.right) - 0.5;
      const t = Math.round(ys.top) + 0.5;
      const b = Math.round(ys.bottom) - 0.5;
      ctx.strokeStyle = '#262626';
      ctx.lineWidth = 1;
      ctx.strokeRect(l, t, r - l, b - t);
      const zb = ys.top + (k < 3 ? 135 : 143);
      ctx.fillStyle = '#000';
      ctx.textAlign = 'left';
      ctx.textBaseline = 'alphabetic';
      ctx.font = `italic 22px ${FAMILY}`;
      ctx.fillText('z', 283, zb);
      ctx.font = `14px ${FAMILY}`;
      ctx.fillText(labelSup[k], 296.5, zb - 9);
      ctx.font = `italic 14px ${FAMILY}`;
      ctx.fillText(labelSub[k], 293, zb + (k < 3 ? 5.5 : 3));
    });
    ctx.restore();
  },
};

function fmtQ(v: number) {
  if (v < 0) return '\u2212' + Math.abs(v);
  return String(v);
}

export default function App() {
  const ref = useRef<HTMLCanvasElement>(null);
  useEffect(() => {
    const canvas = ref.current;
    if (!canvas) return;
    const datasets: any[] = [];
    PANELS.forEach((p, k) => {
      const yid = 'y' + k;
      p.red.forEach((line) => {
        datasets.push({
          data: p.x.map((xv, j) => ({ x: xv, y: line[j] })),
          borderColor: '#ff0000', borderWidth: 1, pointRadius: 0, fill: false,
          yAxisID: yid, xAxisID: 'x', order: 2, tension: 0,
        });
      });
      p.blue.forEach((line) => {
        datasets.push({
          data: p.x.map((xv, j) => ({ x: xv, y: line[j] })),
          borderColor: '#0000ff', borderWidth: 1, pointRadius: 0, fill: false,
          yAxisID: yid, xAxisID: 'x', order: 1, tension: 0,
        });
      });
      datasets.push({
        data: p.bx.map((xv, j) => ({ x: xv, y: p.by[j] })),
        borderColor: '#000000', borderWidth: p.lw, pointRadius: 0, fill: false,
        borderCapStyle: 'square', borderJoinStyle: 'round',
        yAxisID: yid, xAxisID: 'x', order: 0, tension: 0,
      });
    });

    const tickFont = { family: FAMILY, size: 10.4 };
    const scales: any = {
      x: {
        type: 'linear', position: 'bottom', min: 7683.5, max: 9477.5,
        afterFit: (s: any) => { s.height = 35; },
        afterBuildTicks: (s: any) => { s.ticks = xTicks.map((v) => ({ value: v })); },
        ticks: { callback: (v: any) => String(v), font: tickFont, color: '#000', padding: 2, maxRotation: 0, minRotation: 0, autoSkip: false },
        grid: { display: true, drawOnChartArea: false, drawTicks: true, tickLength: 3, tickColor: '#000', tickWidth: 1 },
        border: { display: false },
        title: { display: true, text: 'Wavelength / \u00c5', font: { family: FAMILY, size: 10.4 }, color: '#000', padding: { top: 0, bottom: 2 } },
      },
    };
    PANELS.forEach((p, k) => {
      scales['y' + k] = {
        type: 'linear', position: 'left', stack: 'panels', stackWeight: 1, weight: 7 - k,
        min: yMins[k], max: yMaxs[k],
        afterFit: (s: any) => { s.width = 41; },
        afterBuildTicks: (s: any) => { s.ticks = p.ticks.map((v) => ({ value: v })); },
        ticks: {
          callback: (v: any) => (k < 3 ? Number(v).toFixed(1) : fmtQ(Number(v))),
          font: tickFont, color: '#000', padding: 1.5, autoSkip: false,
        },
        grid: { display: true, drawOnChartArea: false, drawTicks: true, tickLength: 3, tickColor: '#000', tickWidth: 1 },
        border: { display: false },
        title: { display: true, text: yTitles[k], font: { family: FAMILY, size: 11, style: 'italic' }, color: '#000', padding: { top: 3.5, bottom: 0 } },
      };
    });

    const chart = new Chart(canvas, {
      type: 'line',
      data: { datasets },
      options: {
        responsive: false,
        animation: false,
        devicePixelRatio: 1,
        events: [],
        layout: { padding: { left: 0, top: 4, right: 4, bottom: 0 } },
        plugins: { legend: { display: false }, tooltip: { enabled: false } },
        scales,
      } as any,
      plugins: [panelPlugin],
    });
    return () => chart.destroy();
  }, []);

  return (
    <div style={{ position: 'absolute', left: 0, top: 0, width: 376, height: 1216, background: '#fff' }}>
      <canvas ref={ref} width={376} height={1216} style={{ display: 'block', width: 376, height: 1216 }} />
    </div>
  );
}
